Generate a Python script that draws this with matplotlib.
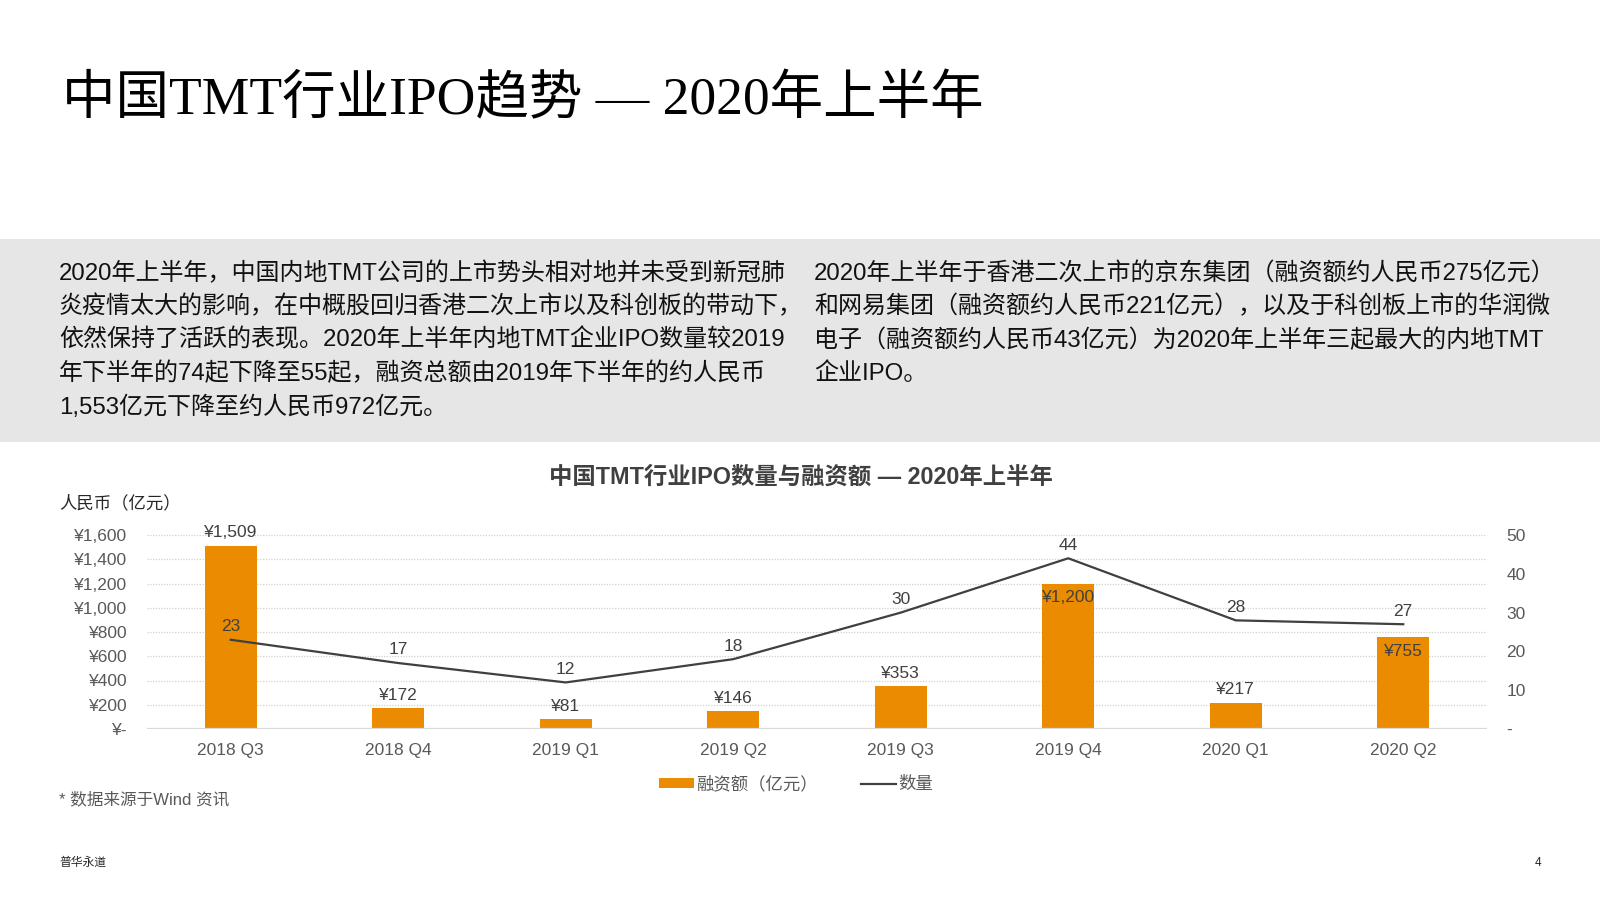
import matplotlib
matplotlib.use("Agg")
import matplotlib.pyplot as plt
from matplotlib.patches import Rectangle, Patch
from matplotlib.lines import Line2D
from matplotlib.ticker import FixedLocator

plt.rcParams['font.family'] = ['Liberation Sans', 'Noto Sans CJK SC', 'DejaVu Sans']

# ---------------- data ----------------
categories = ['2018 Q3', '2018 Q4', '2019 Q1', '2019 Q2', '2019 Q3', '2019 Q4', '2020 Q1', '2020 Q2']
amount = [1509, 172, 81, 146, 353, 1200, 217, 755]          # 融资额（亿元）
count = [23, 17, 12, 18, 30, 44, 28, 27]                    # 数量
left_ticks = [0, 200, 400, 600, 800, 1000, 1200, 1400, 1600]
right_ticks = [0, 10, 20, 30, 40, 50]
label_inside = [False, False, False, False, False, True, False, True]

title = '中国TMT行业IPO趋势 — 2020年上半年'
chart_title = '中国TMT行业IPO数量与融资额 — 2020年上半年'
para_left = [
    '2020年上半年，中国内地TMT公司的上市势头相对地并未受到新冠肺',
    '炎疫情太大的影响，在中概股回归香港二次上市以及科创板的带动下，',
    '依然保持了活跃的表现。2020年上半年内地TMT企业IPO数量较2019',
    '年下半年的74起下降至55起，融资总额由2019年下半年的约人民币',
    '1,553亿元下降至约人民币972亿元。',
]
para_right = [
    '2020年上半年于香港二次上市的京东集团（融资额约人民币275亿元）',
    '和网易集团（融资额约人民币221亿元），以及于科创板上市的华润微',
    '电子（融资额约人民币43亿元）为2020年上半年三起最大的内地TMT',
    '企业IPO。',
]

ORANGE = '#EB8C00'
DARK = '#404040'
GRAY = '#595959'

W, H = 1600, 900
fig = plt.figure(figsize=(16, 9), dpi=100)


def P(x, y):
    return (x / W, 1 - y / H)


# main title
fig.text(*P(62, 100), title, fontsize=38.5, va='center', ha='left', color='#000000',
         family=['Liberation Serif', 'Noto Sans CJK SC'])

# gray band
fig.patches.append(Rectangle(P(0, 442), 1, (442 - 239) / H, transform=fig.transFigure,
                             facecolor='#E6E6E6', edgecolor='none', zorder=0))

line_y = [273.5, 306.5, 340, 373.5, 407]
for i, s in enumerate(para_left):
    fig.text(*P(59, line_y[i]), s, fontsize=17.3, va='center', ha='left', color='#111111')
for i, s in enumerate(para_right):
    fig.text(*P(814, line_y[i]), s, fontsize=17.3, va='center', ha='left', color='#111111')

# chart
ax = fig.add_axes([147 / W, (900 - 729) / H, 1340 / W, 194 / H])
ax2 = ax.twinx()
ax.set_zorder(ax2.get_zorder() + 1)
ax.patch.set_visible(False)

x = list(range(len(categories)))
ax.bar(x, amount, width=0.31, color=ORANGE, zorder=3)
ax.set_xlim(-0.5, len(categories) - 0.5)
ax.set_ylim(0, 1600)
ax2.set_ylim(0, 50)

ax.yaxis.set_major_locator(FixedLocator(left_ticks))
ax.set_yticklabels(['¥-' if v == 0 else '¥{:,}'.format(v) for v in left_ticks])
ax2.yaxis.set_major_locator(FixedLocator(right_ticks))
ax2.set_yticklabels(['-' if v == 0 else str(v) for v in right_ticks])
ax.set_xticks(x)
ax.set_xticklabels(categories)

for a in (ax, ax2):
    for sp in a.spines.values():
        sp.set_visible(False)
ax.tick_params(axis='y', length=0, pad=14, labelsize=12.5, labelcolor=GRAY)
ax2.tick_params(axis='y', length=0, pad=14, labelsize=12.5, labelcolor=GRAY)
ax.tick_params(axis='x', length=0, pad=10, labelsize=12.5, labelcolor=GRAY)

for v in left_ticks[1:]:
    ax.axhline(v, color='#D0D0D0', lw=0.9, ls=(0, (1, 1.2)), zorder=1)
ax.axhline(0, color='#D9D9D9', lw=1.6, zorder=4)

# count line on its own axis sharing the secondary scale
ax_line = ax.twinx()
ax_line.set_ylim(0, 50)
ax_line.axis('off')
ax_line.plot(x, count, color=DARK, lw=1.6, zorder=5)

for xi, v, inside in zip(x, amount, label_inside):
    txt = '¥{:,}'.format(v)
    if inside:
        ax.annotate(txt, (xi, v), xytext=(0, -5), textcoords='offset points',
                    ha='center', va='top', fontsize=12.5, color=DARK, zorder=6)
    else:
        ax.annotate(txt, (xi, v), xytext=(0, 4), textcoords='offset points',
                    ha='center', va='bottom', fontsize=12.5, color=DARK, zorder=6)

for xi, v in zip(x, count):
    ax_line.annotate(str(v), (xi, v), xytext=(0, 4), textcoords='offset points',
                     ha='center', va='bottom', fontsize=12.5, color=DARK, zorder=6)

fig.text(*P(801, 477), chart_title, fontsize=16.8, fontweight='bold', ha='center',
         va='center', color=DARK)
fig.text(*P(59, 503), '人民币（亿元）', fontsize=12.5, ha='left', va='center', color='#262626')

handles = [Patch(facecolor=ORANGE, edgecolor='none'), Line2D([], [], color=DARK, lw=1.6)]
fig.legend(handles, ['融资额（亿元）', '数量'], loc='center', bbox_to_anchor=P(796, 784),
           ncol=2, frameon=False, fontsize=12.5, labelcolor=GRAY, handlelength=2.0,
           handletextpad=0.15, columnspacing=2.5, handleheight=0.55)

fig.text(*P(59, 799), '* 数据来源于Wind 资讯', fontsize=12, ha='left', va='center', color=GRAY)
fig.text(*P(59, 863), '普华永道', fontsize=8.5, ha='left', va='center', color='#262626')
fig.text(*P(1538, 863), '4', fontsize=8.5, ha='center', va='center', color='#262626')

fig.savefig('out.png', dpi=100)
